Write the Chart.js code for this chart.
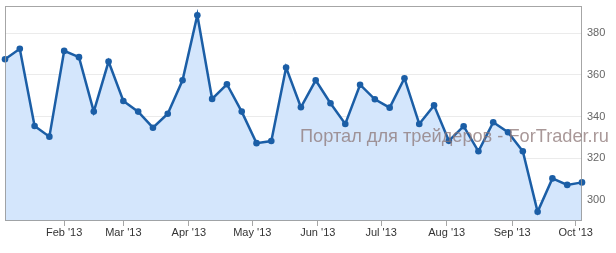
<!DOCTYPE html>
<html>
<head>
<meta charset="utf-8">
<script src="https://cdn.jsdelivr.net/npm/chart.js@4"></script>
<style>
html,body{margin:0;padding:0;background:#fff;}
#wrap{position:relative;width:616px;height:253px;}
#wm{position:absolute;left:300px;top:126px;font:18.2px "Liberation Sans",Arial,sans-serif;color:rgba(140,118,118,0.75);white-space:nowrap;pointer-events:none;}
</style>
</head>
<body>
<div id="wrap">
<canvas id="c" width="616" height="253"></canvas>
<div id="wm">Портал для трейдеров - ForTrader.ru</div>
</div>
<script>
// days since 4 Jan 2013 (weekly points)
const dayOffsets = [0,7,14,21,28,35,42,49,56,63,70,77,84,91,98,105,112,119,126,133,140,147,154,161,168,175,182,189,196,203,210,217,224,231,238,245,252,259,266,273];
const values = [367.5,372.5,335.5,330.4,371.5,368.5,342.4,366.4,347.5,342.4,334.7,341.4,357.4,388.6,348.5,355.5,342.4,327.3,328.3,363.5,344.5,357.4,346.4,336.5,355.3,348.3,344.3,358.4,336.5,345.4,328.4,335.4,323.4,337.3,332.5,323.4,294.4,310.4,307.3,308.5];
const monthTickDays = [28,56,87,117,148,178,209,240,270];
const monthTickLabels = ["Feb '13","Mar '13","Apr '13","May '13","Jun '13","Jul '13","Aug '13","Sep '13","Oct '13"];
const yTicks = [300,320,340,360,380];

const points = dayOffsets.map((d,i)=>({x:d,y:values[i]}));

const borderPlugin = {
  id:'borderBox',
  afterDatasetsDraw(chart){
    const a = chart.chartArea, ctx = chart.ctx;
    ctx.save();
    ctx.strokeStyle = 'rgba(150,150,150,0.85)';
    ctx.lineWidth = 1;
    ctx.strokeRect(Math.round(a.left)+0.5, Math.round(a.top)+0.5, Math.round(a.right-a.left)-1, Math.round(a.bottom-a.top)-1);
    ctx.restore();
  }
};

new Chart(document.getElementById('c'), {
  type:'line',
  data:{datasets:[{
    data:points,
    borderColor:'#1b5ea6',
    backgroundColor:'#d4e6fc',
    fill:'start',
    borderWidth:2.5,
    tension:0,
    clip:6,
    pointRadius:3.3,
    pointBackgroundColor:'#1b5ea6',
    pointBorderColor:'#1b5ea6',
    pointBorderWidth:0
  }]},
  options:{
    responsive:false,
    animation:false,
    events:[],
    layout:{padding:{left:5,top:6,right:0,bottom:0}},
    plugins:{legend:{display:false},tooltip:{enabled:false}},
    scales:{
      x:{
        type:'linear',
        min:0,max:273,
        afterBuildTicks(ax){ ax.ticks = monthTickDays.map(v=>({value:v})); },
        afterFit(ax){ ax.height = 32; ax.paddingLeft = 0; ax.paddingRight = 0; },
        ticks:{
          autoSkip:false,maxRotation:0,
          callback:(v)=>{const i=monthTickDays.indexOf(v);return i>=0?monthTickLabels[i]:'';},
          color:'#333',
          font:{family:'"Liberation Sans", Arial, sans-serif',size:11},
          padding:0
        },
        grid:{drawOnChartArea:false,drawTicks:true,tickLength:5,color:'#a6a6a6'},
        border:{display:false}
      },
      y:{
        position:'right',
        min:290,max:393,
        afterBuildTicks(ax){ ax.ticks = yTicks.map(v=>({value:v})); },
        afterFit(ax){ ax.width = 34; ax.paddingTop = 0; ax.paddingBottom = 0; },
        ticks:{
          color:'#666',
          font:{family:'"Liberation Sans", Arial, sans-serif',size:11},
          padding:5
        },
        grid:{color:'#ebebeb',drawTicks:false,lineWidth:1},
        border:{display:false}
      }
    }
  },
  plugins:[borderPlugin]
});
</script>
</body>
</html>
